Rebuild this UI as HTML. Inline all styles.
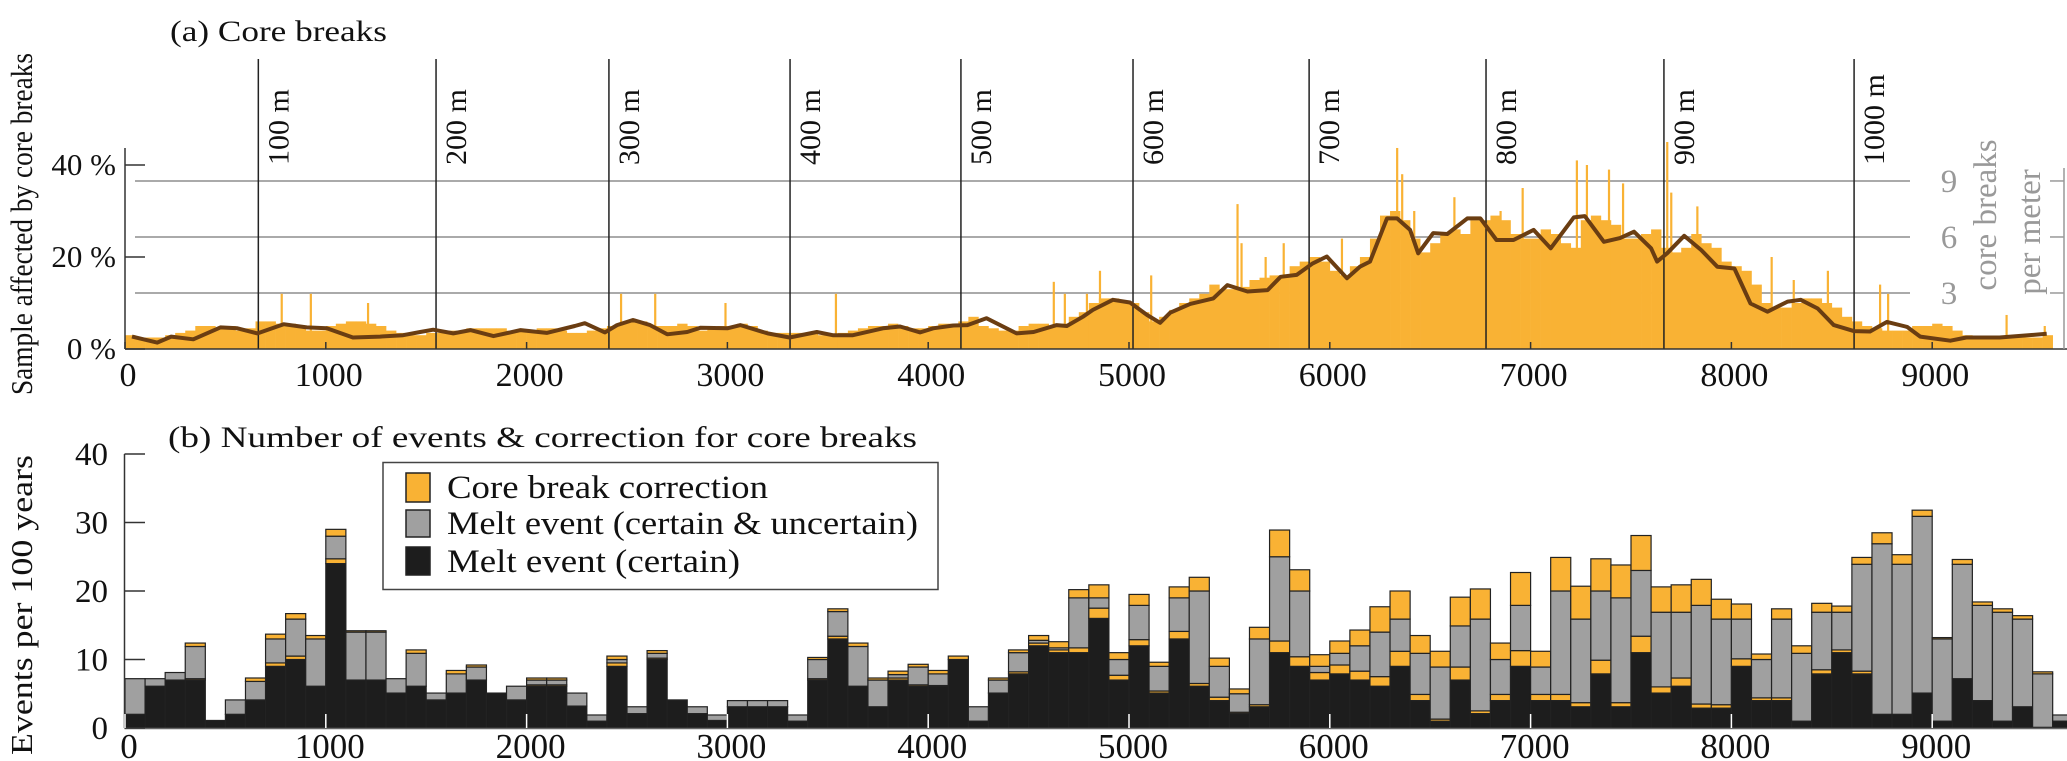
<!DOCTYPE html>
<html><head><meta charset="utf-8"><title>Core breaks</title>
<style>
html,body{margin:0;padding:0;background:#fff;}
svg{display:block;font-family:"Liberation Serif",serif;}
</style></head>
<body>
<svg id="chart" width="2067" height="761" viewBox="0 0 2067 761" xmlns="http://www.w3.org/2000/svg">
  <g id="topPanel"></g>
  <g id="botPanel"></g>
  <g id="txtLayer"></g>
</svg>
<script>
// ---------- Panel (a) data ----------
const topBarPct = [
3,2.5,2.5,2.5,3,3.5,4,5,5,4.5, 5,4,4.5,6,6,5.5,5.5,5,4,4,
5,5.5,6,6,5.5,5,4,3.5,3,3, 3.5,3.5,4,4,4.5,4.5,4.5,4.5,4,4,
4,4.5,4.5,4,3.5,3.5,4,4.5,5,5.5, 6,6,5,5,5,5.5,5,4,4.5,5,
5,5.5,5,4,3.5,3.5,3.5,3.5,3.5,3, 3,3.5,4,4.5,5,5,5.5,5,4.5,4.5,
5,5.5,5.5,6,7,5,4.5,4,4,5, 5.5,5.5,5,5.5,7,8,10,11,11,10.5,
10,8,6,7,8.5,10,11,12,14,13, 13,13.5,15,15.5,16,16,18,19,20,19,
17,16,18,20,24,29,30,28,24,21, 23,25,26,25,28,28,29,28,25,24,
24,26,25,23,22,28,29,28,27,24, 24,25,26,22,21,22,25,23,22,19,
18,17,14,10,9,9,10,11,11,10, 9,7,6,5,4.5,4,4,4,5,5,
5.5,5,4,3,2.5,2.5,2.5,2.5,2.5,2.5,2.5,3];
const spikeYears = [780,925,1210,2470,2640,2990,3540,4625,4680,4790,4855,5110,5540,5560,5680,5770,6060,6335,6360,6420,6620,6850,6960,7230,7280,7390,7460,7680,7700,7830,8200,8310,8480,8740,8780,9370,9560];
const spikePct = [12,12,10,12,12,10,12,14.6,12,12,17,16,31.5,23,20,23,24,43.7,38,30,33,30,35,41,40,39,36,45,34,31,20,15,17,14,12,7.4,5];
const lineYears = [35,160,230,340,475,560,660,790,905,1005,1135,1270,1385,1470,1535,1635,1720,1835,1970,2100,2240,2290,2390,2450,2530,2615,2700,2800,2865,3000,3065,3200,3310,3445,3525,3625,3775,3860,3960,4025,4125,4195,4290,4440,4525,4640,4690,4770,4820,4920,5005,5090,5155,5205,5305,5420,5490,5590,5690,5755,5835,5915,5985,6085,6150,6200,6285,6335,6400,6440,6515,6585,6685,6750,6830,6915,7015,7100,7215,7270,7365,7445,7515,7600,7630,7680,7765,7850,7930,8015,8095,8180,8280,8345,8430,8510,8610,8690,8775,8875,8940,9090,9170,9335,9570];
const linePct = [2.7,1.4,2.7,2.1,4.7,4.5,3.4,5.4,4.7,4.5,2.5,2.7,3.0,3.7,4.2,3.4,4.1,2.8,4.1,3.5,5.0,5.6,3.6,5.2,6.3,5.2,3.2,3.7,4.6,4.5,5.2,3.4,2.5,3.7,3.0,3.0,4.5,4.9,3.6,4.5,5.1,5.2,6.7,3.4,3.7,5.2,5.0,7.0,8.5,10.7,10.1,7.4,5.7,7.9,9.8,11.0,13.9,12.5,12.8,15.7,16.1,18.6,20.1,15.4,17.9,19.0,28.4,28.4,25.9,20.8,25.2,25.0,28.4,28.4,23.7,23.7,25.9,21.9,28.6,28.9,23.3,24.1,25.5,21.9,19.0,20.8,24.6,21.5,17.9,17.5,9.9,8.1,10.3,10.7,8.8,5.2,3.9,3.8,5.9,4.8,2.7,1.8,2.5,2.5,3.3];
const depthYears = [664,1549,2410,3312,4163,5020,5897,6778,7664,8611];
const depthLabels = ["100 m","200 m","300 m","400 m","500 m","600 m","700 m","800 m","900 m","1000 m"];
const xTickVals = [0,1000,2000,3000,4000,5000,6000,7000,8000,9000];
const topYTicks = [0,20,40];
const topYLabels = ["0 %","20 %","40 %"];
const rightTicks = [3,6,9];
// ---------- Panel (b) data (cumulative tops per 100-yr bin) ----------
const certainTop = [2.0,6.1,7.0,7.0,1.1,2.0,4.1,9.0,10.0,6.1,24.0,7.0,7.0,5.1,6.1,4.1,5.1,7.0,5.1,4.1,6.1,6.1,3.2,1.0,9.0,2.1,10.0,4.1,2.1,1.1,3.1,3.1,3.1,1.0,7.0,13.0,6.1,3.1,7.0,6.1,6.1,10.0,1.0,5.1,7.9,12.0,11.0,11.0,16.0,7.0,12.0,5.1,13.0,6.1,4.0,2.1,3.1,11.0,9.0,7.0,7.9,7.0,6.1,9.0,4.0,1.0,7.0,2.1,4.0,9.0,4.0,4.0,3.1,7.9,3.1,11.0,5.1,6.1,2.9,2.9,9.0,4.0,4.0,1.0,7.9,11.0,7.9,2.0,2.0,5.1,1.0,7.2,4.0,1.0,3.1,0.1,1.0];
const certainCorrTop = [2.0,6.1,7.0,7.2,1.1,2.0,4.1,9.5,10.5,6.1,24.7,7.0,7.0,5.1,6.1,4.1,5.1,7.0,5.1,4.1,6.3,6.3,3.2,1.0,9.5,2.1,10.2,4.1,2.1,1.1,3.1,3.1,3.1,1.0,7.2,13.4,6.1,3.1,7.3,6.3,6.2,10.5,1.0,5.1,8.2,12.4,11.4,11.7,17.5,7.7,12.9,5.4,14.1,6.5,4.5,2.3,3.4,12.7,10.4,8.1,9.2,8.3,7.5,11.2,4.9,1.3,8.9,2.5,4.9,11.3,4.9,4.9,3.7,9.9,3.7,13.4,6.0,7.3,3.5,3.4,10.1,4.4,4.4,1.0,8.5,11.4,8.3,2.0,2.0,5.1,1.0,7.2,4.0,1.0,3.1,0.1,1.0];
const allTop = [7.2,7.2,8.1,11.9,1.1,4.1,6.8,13.0,15.9,13.0,28.0,14.0,14.0,7.2,10.9,5.1,7.9,8.9,5.1,6.1,7.0,7.0,5.1,1.9,10.0,3.1,10.9,4.1,3.1,1.9,4.0,4.0,4.0,1.9,10.0,17.0,11.9,7.0,7.8,8.9,7.9,10.5,3.1,7.0,11.0,12.8,11.7,19.0,19.0,10.0,17.9,9.0,19.0,20.0,9.0,5.0,13.0,25.0,20.0,9.0,10.9,12.0,14.0,15.9,10.9,8.9,14.9,15.9,10.0,17.9,8.9,20.0,15.9,20.0,19.0,23.0,16.9,16.9,17.9,15.9,15.9,10.0,15.9,10.9,16.9,16.9,23.9,26.9,23.9,30.9,13.0,23.9,17.9,16.9,15.9,7.9,1.9];
const allCorrTop = [7.2,7.2,8.1,12.4,1.1,4.1,7.3,13.7,16.7,13.5,29.0,14.2,14.2,7.2,11.4,5.1,8.4,9.2,5.1,6.1,7.3,7.3,5.1,1.9,10.5,3.1,11.3,4.1,3.1,1.9,4.0,4.0,4.0,1.9,10.3,17.4,12.4,7.3,8.3,9.3,8.4,10.5,3.1,7.3,11.4,13.5,12.6,20.2,20.9,11.0,19.5,9.6,20.6,22.0,10.2,5.7,14.7,28.9,23.1,10.7,12.7,14.3,17.7,20.0,13.5,11.2,19.1,20.3,12.4,22.7,11.2,24.9,20.7,24.7,23.8,28.1,20.6,20.9,21.7,18.8,18.1,10.8,17.4,12.0,18.2,17.8,24.9,28.5,25.3,31.8,13.2,24.6,18.4,17.4,16.4,8.2,1.9];
const botYTicks = [0,10,20,30,40];

// ---------- scales ----------
const X0 = 125, PXY = 0.2008;
function xs(yr){ return X0 + yr*PXY; }
function yTop(p){ return 349 - p*4.6; }
function yRight(b){ return 349 - b*18.67; }
function yBot(v){ return 728 - v*6.85; }

const NS = "http://www.w3.org/2000/svg";
function mk(tag, attrs, parent, text){
  const e = document.createElementNS(NS, tag);
  for (const k in attrs) e.setAttribute(k, attrs[k]);
  if (text !== undefined) e.textContent = text;
  parent.appendChild(e);
  return e;
}
const ORANGE = "#F9B234", GRAY = "#A0A0A0", BLACK = "#1D1D1D", BROWN = "#6A3D12";
const topG = document.getElementById('topPanel');
const botG = document.getElementById('botPanel');
const txtG = document.getElementById('txtLayer');

// ----- panel a -----
rightTicks.forEach(b => {
  const g = mk('line',{x1:135,x2:1910,y1:yRight(b),y2:yRight(b),stroke:"#AAAAAA","stroke-width":2},topG);
  
  
});
topBarPct.forEach((p,i) => {
  const r = mk('rect',{x:xs(i*50),y:yTop(p),width:50*PXY+0.3,height:349-yTop(p),fill:ORANGE},topG);
  
  
});
spikeYears.forEach((yr,i) => {
  const r = mk('rect',{x:xs(yr)-1,y:yTop(spikePct[i]),width:2.2,height:349-yTop(spikePct[i]),fill:ORANGE},topG);
  
  
});
depthYears.forEach((yr,i) => {
  const l = mk('line',{x1:xs(yr),x2:xs(yr),y1:59,y2:349,stroke:"#222","stroke-width":1.5},topG);
  
  
  const t = mk('text',{x:0,y:0,"font-size":30,fill:"#111",transform:`translate(${xs(yr)+30},165) rotate(-90)`},topG,depthLabels[i]);
  
  
});
let d = lineYears.map((yr,i)=>(i?'L':'M')+xs(yr).toFixed(1)+','+yTop(linePct[i]).toFixed(1)).join(' ');
const pl = mk('path',{d:d,fill:"none",stroke:BROWN,"stroke-width":4,"stroke-linejoin":"round"},topG);


const ax1 = mk('line',{x1:125,x2:125,y1:148,y2:349,stroke:"#333","stroke-width":1.5},topG);


const ax2 = mk('line',{x1:125,x2:2067,y1:349,y2:349,stroke:"#333","stroke-width":1.5},topG);


const ax3 = mk('line',{x1:2064,x2:2064,y1:168,y2:349,stroke:"#999","stroke-width":1.5},topG);


rightTicks.forEach(b=>{
  const tk = mk('line',{x1:2050,x2:2064,y1:yRight(b),y2:yRight(b),stroke:"#999","stroke-width":1.5},topG);
  
  
  const t = mk('text',{x:1949,y:yRight(b)+11,"font-size":33,fill:"#999","text-anchor":"middle"},txtG,String(b));
  
  
});
topYTicks.forEach((p,i)=>{
  const tk = mk('line',{x1:125,x2:145,y1:yTop(p),y2:yTop(p),stroke:"#333","stroke-width":1.5},topG);
  
  
  const t = mk('text',{x:116,y:yTop(p)+10,"font-size":31,fill:"#111","text-anchor":"end"},txtG,topYLabels[i]);
  
  
});
xTickVals.forEach(v=>{
  const tk = mk('line',{x1:xs(v),x2:xs(v),y1:342,y2:349,stroke:"#333","stroke-width":1.5},topG);
  
  
  const t = mk('text',{x:xs(v)+3,y:386,"font-size":34,fill:"#111","text-anchor":"middle"},txtG,String(v));
  
  
});

// ----- panel b -----
certainTop.forEach((b,i)=>{
  const x = xs(i*100), w = 100*PXY;
  const segs = [[0,b,BLACK],[b,certainCorrTop[i],ORANGE],[certainCorrTop[i],allTop[i],GRAY],[allTop[i],allCorrTop[i],ORANGE]];
  segs.forEach((s,k)=>{
    if (s[1]-s[0] <= 0.01) return;
    const r = mk('rect',{x:x,y:yBot(s[1]),width:w,height:yBot(s[0])-yBot(s[1]),fill:s[2],stroke:"#222","stroke-width":1.2},botG);
    
    
  });
});
const bx1 = mk('line',{x1:124.5,x2:124.5,y1:454,y2:728,stroke:"#333","stroke-width":1.5},botG);


const bx2 = mk('line',{x1:124.5,x2:2067,y1:728.5,y2:728.5,stroke:"#666","stroke-width":1.5},botG);


botYTicks.forEach(v=>{
  const tk = mk('line',{x1:124.5,x2:145,y1:yBot(v),y2:yBot(v),stroke:"#333","stroke-width":1.5},botG);
  
  
  const t = mk('text',{x:108,y:yBot(v)+11,"font-size":33,fill:"#111","text-anchor":"end"},txtG,String(v));
  
  
});
xTickVals.forEach(v=>{
  const tk = mk('line',{x1:xs(v),x2:xs(v),y1:714,y2:728,stroke:"#fff","stroke-width":1.5},botG);
  
  
  const t = mk('text',{x:xs(v)+4,y:758,"font-size":35,fill:"#111","text-anchor":"middle"},txtG,String(v));
  
  
});
</script>
<svg style="position:absolute;left:0;top:0" width="2067" height="761" viewBox="0 0 2067 761" xmlns="http://www.w3.org/2000/svg" font-family="Liberation Serif, serif">
  <text x="170" y="41" font-size="30" fill="#111" textLength="217" lengthAdjust="spacingAndGlyphs">(a) Core breaks</text>
  <text x="168" y="447" font-size="30" fill="#111" textLength="749" lengthAdjust="spacingAndGlyphs">(b) Number of events &amp; correction for core breaks</text>
  <text transform="translate(32,224) rotate(-90)" text-anchor="middle" font-size="31" fill="#111" textLength="342" lengthAdjust="spacingAndGlyphs">Sample affected by core breaks</text>
  <text transform="translate(32,605) rotate(-90)" text-anchor="middle" font-size="31" fill="#111" textLength="300" lengthAdjust="spacingAndGlyphs">Events per 100 years</text>
  <text transform="translate(1996,215) rotate(-90)" text-anchor="middle" font-size="33" fill="#999">core breaks</text>
  <text transform="translate(2040,232) rotate(-90)" text-anchor="middle" font-size="33" fill="#999">per meter</text>
  <g>
    <rect x="383" y="462.5" width="555" height="127" fill="#fff" stroke="#444" stroke-width="1.5"/>
    <rect x="406" y="473" width="24" height="29" fill="#F9B234" stroke="#222" stroke-width="1.5"/>
    <rect x="406" y="510" width="24" height="27" fill="#A0A0A0" stroke="#222" stroke-width="1.5"/>
    <rect x="406" y="547" width="24" height="28" fill="#1D1D1D" stroke="#222" stroke-width="1.5"/>
    <text x="447" y="498" font-size="33" fill="#111" textLength="321" lengthAdjust="spacingAndGlyphs">Core break correction</text>
    <text x="447" y="534" font-size="33" fill="#111" textLength="471" lengthAdjust="spacingAndGlyphs">Melt event (certain &amp; uncertain)</text>
    <text x="447" y="572" font-size="33" fill="#111" textLength="293" lengthAdjust="spacingAndGlyphs">Melt event (certain)</text>
  </g>
</svg>
</body></html>
